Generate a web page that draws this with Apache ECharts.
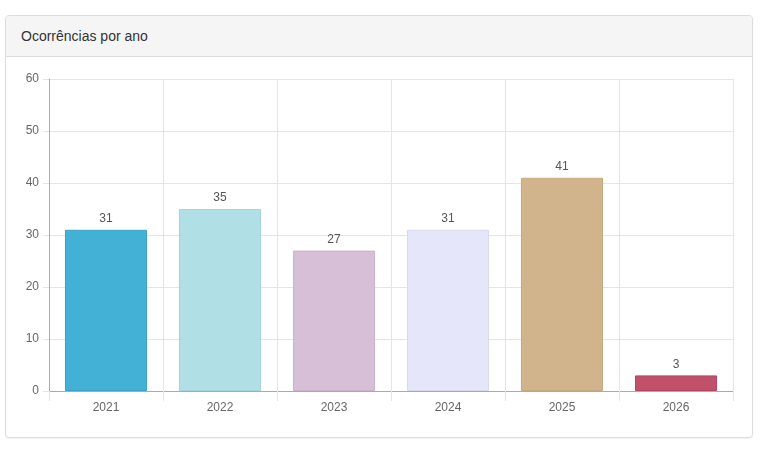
<!DOCTYPE html>
<html>
<head>
<meta charset="utf-8">
<script src="https://cdn.jsdelivr.net/npm/echarts@6/dist/echarts.min.js"></script>
<style>
html,body{margin:0;padding:0;background:#fff;width:772px;height:456px;overflow:hidden;font-family:"Liberation Sans",Arial,sans-serif;}
#panel{position:absolute;left:5px;top:15px;width:746px;height:421px;border:1px solid #ddd;border-radius:4px;box-shadow:0 1px 1px rgba(0,0,0,.05);background:#fff;}
#head{height:40px;line-height:40px;background:#f5f5f5;border-bottom:1px solid #ddd;border-radius:3px 3px 0 0;padding-left:15px;font-size:14px;color:#333;}
#chart{position:absolute;left:0;top:0;width:772px;height:456px;}
</style>
</head>
<body>
<div id="panel"><div id="head">Ocorrências por ano</div></div>
<div id="chart"></div>
<script>
const categories = ['2021','2022','2023','2024','2025','2026'];
const values = [31, 35, 27, 31, 41, 3];
const barColors = ['#43b1d5','#b0dfe5','#d8bfd8','#e6e6fa','#d2b48c','#c1506a'];
const borderColors = ['#3aa3c6','#a5d3d9','#ccb3cc','#d9d9ee','#c6a880','#b44660'];
const yTicks = [0,10,20,30,40,50,60];

const chart = echarts.init(document.getElementById('chart'), null, {renderer:'canvas'});
chart.setOption({
  animation:false,
  grid:{left:49,right:39,top:79,bottom:65,containLabel:false},
  xAxis:{
    type:'category',
    data:categories,
    boundaryGap:true,
    axisLine:{show:true,lineStyle:{color:'#aaa',width:1}},
    axisTick:{show:true,length:10,alignWithLabel:false,lineStyle:{color:'#e5e5e5'}},
    axisLabel:{color:'#666',fontSize:12,margin:11,fontFamily:'Liberation Sans, Arial, sans-serif'},
    splitLine:{show:true,lineStyle:{color:'#e5e5e5',width:1}}
  },
  yAxis:{
    type:'value',
    min:yTicks[0],max:yTicks[yTicks.length-1],interval:10,
    axisLine:{show:true,lineStyle:{color:'#aaa',width:1}},
    axisTick:{show:true,length:6,lineStyle:{color:'#e5e5e5'}},
    axisLabel:{color:'#666',fontSize:12,margin:10,fontFamily:'Liberation Sans, Arial, sans-serif'},
    splitLine:{show:true,lineStyle:{color:'#e5e5e5',width:1}}
  },
  series:[{
    type:'bar',
    barWidth:'72%',
    data:values.map((v,i)=>({value:v,itemStyle:{color:barColors[i],borderColor:borderColors[i],borderWidth:1}})),
    label:{show:true,position:'top',distance:5,color:'#555',fontSize:12,fontFamily:'Liberation Sans, Arial, sans-serif'}
  }]
});
</script>
</body>
</html>
